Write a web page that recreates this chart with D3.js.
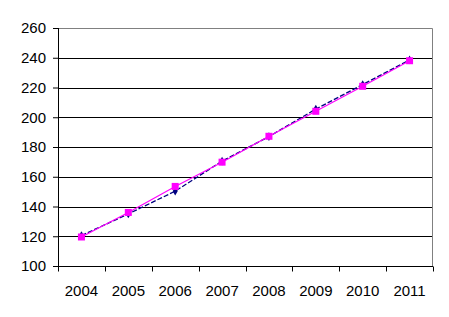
<!DOCTYPE html>
<html>
<head>
<meta charset="utf-8">
<script src="https://cdn.jsdelivr.net/npm/d3@7"></script>
<style>
  body { margin: 0; background: #fff; }
  text { font-family: Arial, "Liberation Sans", sans-serif; }
</style>
</head>
<body>
<div id="chart"></div>
<script>
var years = ["2004", "2005", "2006", "2007", "2008", "2009", "2010", "2011"];
var seriesA = [120.5, 135, 150.3, 170.5, 187, 205.5, 222, 238.5]; // navy, dashed
var seriesB = [119.5, 136, 153.5, 169.8, 187.2, 204, 220.8, 238]; // magenta
var yTicks = [100, 120, 140, 160, 180, 200, 220, 240, 260];

var width = 449, height = 317;
var margin = { top: 28, right: 16, bottom: 51, left: 58 };

var svg = d3.select("#chart")
  .append("svg")
  .attr("width", width)
  .attr("height", height);

var g = svg.append("g")
  .attr("transform", "translate(" + margin.left + "," + margin.top + ")");

var w = width - margin.left - margin.right,
    h = height - margin.top - margin.bottom;

var x = d3.scaleBand().domain(years).range([0, w]);
var y = d3.scaleLinear().domain([100, 260]).range([h, 0]);

// gridlines
g.selectAll(".grid")
  .data(yTicks.slice(1, -1))
  .enter()
  .append("line")
  .attr("x1", 0)
  .attr("x2", w)
  .attr("y1", function (d) { return Math.round(y(d)) + 0.5; })
  .attr("y2", function (d) { return Math.round(y(d)) + 0.5; })
  .attr("stroke", "#000");

// plot border top / right (gray)
g.append("path")
  .attr("d", "M0," + (Math.round(y(260)) + 0.5) + "H" + (w - 0.5) + "V" + h)
  .attr("fill", "none")
  .attr("stroke", "#808080");

// y axis
var yAxis = g.append("g")
  .call(d3.axisLeft(y).tickValues(yTicks).tickSize(5).tickPadding(7));
yAxis.select(".domain").remove();
yAxis.append("line")
  .attr("x1", 0.5).attr("x2", 0.5)
  .attr("y1", 0).attr("y2", h)
  .attr("stroke", "#000");
yAxis.selectAll("text").attr("font-size", 15).attr("fill", "#000").attr("font-family", "Arial, 'Liberation Sans', sans-serif");

// x axis with ticks between categories
var xg = g.append("g").attr("transform", "translate(0," + (Math.round(h) + 0.5) + ")");
xg.append("line").attr("x1", 0).attr("x2", w).attr("stroke", "#000");
var bounds = d3.range(years.length + 1).map(function (i) { return i * x.bandwidth(); });
xg.selectAll(".tk")
  .data(bounds)
  .enter()
  .append("line")
  .attr("x1", function (d) { return Math.round(d) + 0.5; })
  .attr("x2", function (d) { return Math.round(d) + 0.5; })
  .attr("y1", 0)
  .attr("y2", 5)
  .attr("stroke", "#000");
xg.selectAll(".lbl")
  .data(years)
  .enter()
  .append("text")
  .attr("x", function (d) { return x(d) + x.bandwidth() / 2; })
  .attr("y", 29)
  .attr("text-anchor", "middle")
  .attr("font-size", 15)
  .text(function (d) { return d; });

var line = d3.line()
  .x(function (d, i) { return x(years[i]) + x.bandwidth() / 2; })
  .y(function (d) { return y(d); });

// navy series
g.append("path")
  .datum(seriesA)
  .attr("d", line)
  .attr("fill", "none")
  .attr("stroke", "#000080")
  .attr("stroke-width", 1.3)
  .attr("stroke-dasharray", "5,2");

g.selectAll(".dia")
  .data(seriesA)
  .enter()
  .append("path")
  .attr("d", d3.symbol().type(d3.symbolDiamond).size(22))
  .attr("transform", function (d, i) {
    return "translate(" + (x(years[i]) + x.bandwidth() / 2) + "," + y(d) + ")";
  })
  .attr("fill", "#000080");

// magenta series
g.append("path")
  .datum(seriesB)
  .attr("d", line)
  .attr("fill", "none")
  .attr("stroke", "#ff00ff")
  .attr("stroke-width", 1.2);

g.selectAll(".sq")
  .data(seriesB)
  .enter()
  .append("rect")
  .attr("x", function (d, i) { return x(years[i]) + x.bandwidth() / 2 - 3.5; })
  .attr("y", function (d) { return y(d) - 3.5; })
  .attr("width", 7)
  .attr("height", 7)
  .attr("fill", "#ff00ff");
</script>
</body>
</html>
